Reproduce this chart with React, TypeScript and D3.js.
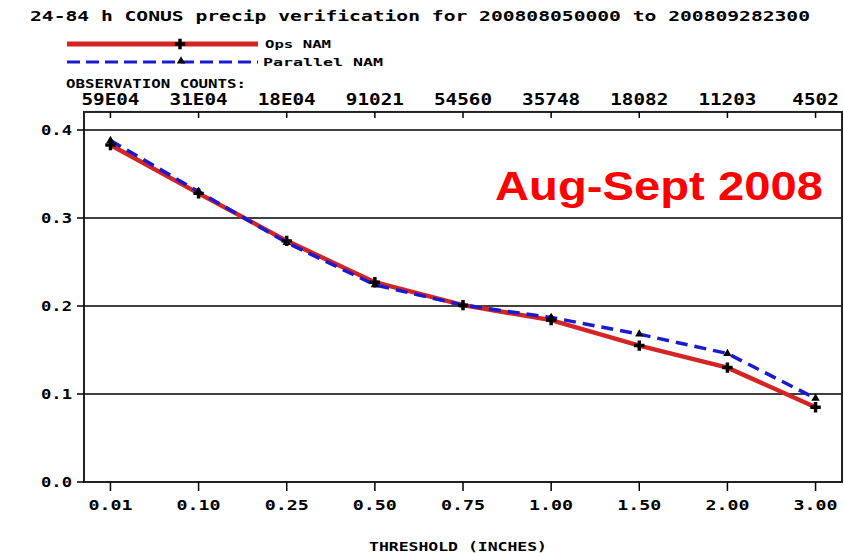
import React from "react";
import * as d3 from "d3";

const thresholds = ["0.01", "0.10", "0.25", "0.50", "0.75", "1.00", "1.50", "2.00", "3.00"];
const obsCounts = ["59E04", "31E04", "18E04", "91021", "54560", "35748", "18082", "11203", "4502"];
const opsNam = [0.383, 0.328, 0.274, 0.227, 0.201, 0.184, 0.155, 0.130, 0.085];
const parallelNam = [0.388, 0.330, 0.272, 0.224, 0.201, 0.187, 0.168, 0.146, 0.095];
const yTicks = [0, 0.1, 0.2, 0.3, 0.4];

const W = 844, H = 553;
const mono = "'DejaVu Sans Mono', 'Liberation Mono', monospace";

export default function App() {
  const x = d3.scaleLinear().domain([-0.3, 8.3]).range([84, 842]);
  const y = d3.scaleLinear().domain([0, 0.4]).range([482, 130]);
  const top = y(0.4205);
  const idx = thresholds.map((_, i) => i);
  const line = d3.line<number>().x((_, i) => x(i)).y((d) => y(d));
  const cross = d3.symbol().type(d3.symbolCross).size(60)() as string;
  const tri = d3.symbol().type(d3.symbolTriangle).size(30)() as string;

  return (
    <svg width={W} height={H} style={{ position: "absolute", left: 0, top: 0, background: "#fff" }}>
      <rect width={W} height={H} fill="#fff" />
      <text x={30} y={21} fontFamily={mono} fontSize={14} fontWeight="bold" textLength={780} lengthAdjust="spacingAndGlyphs">
        24-84 h CONUS precip verification for 200808050000 to 200809282300
      </text>
      {/* legend */}
      <line x1={67} x2={258} y1={44} y2={44} stroke="#d42424" strokeWidth={5} />
      <path d={cross} transform="translate(180,44)" fill="#000" />
      <text x={265} y={48} fontFamily={mono} fontSize={11} fontWeight="bold" textLength={66} lengthAdjust="spacingAndGlyphs">Ops NAM</text>
      <line x1={67} x2={258} y1={62} y2={62} stroke="#1a1ad0" strokeWidth={3} strokeDasharray="13,6" />
      <path d={tri} transform="translate(181,61)" fill="#000" />
      <text x={263} y={66} fontFamily={mono} fontSize={11} fontWeight="bold" textLength={120} lengthAdjust="spacingAndGlyphs">Parallel NAM</text>
      <text x={66} y={88} fontFamily={mono} fontSize={12} fontWeight="bold" textLength={180} lengthAdjust="spacingAndGlyphs">OBSERVATION COUNTS:</text>
      {obsCounts.map((c, i) => (
        <text key={c} x={x(i)} y={105} textAnchor="middle" fontFamily={mono} fontSize={15} fontWeight="bold" textLength={c.length * 11.6} lengthAdjust="spacingAndGlyphs">{c}</text>
      ))}
      {/* grid */}
      {yTicks.slice(1).map((t) => (
        <line key={t} x1={x.range()[0]} x2={x.range()[1]} y1={y(t)} y2={y(t)} stroke="#000" strokeWidth={1.5} />
      ))}
      <rect x={x.range()[0]} y={top} width={x.range()[1] - x.range()[0]} height={y(0) - top} fill="none" stroke="#222" strokeWidth={2} />
      {yTicks.map((t) => (
        <g key={t}>
          <line x1={x.range()[0] - 7} x2={x.range()[0]} y1={y(t)} y2={y(t)} stroke="#000" strokeWidth={1.5} />
          <text x={72} y={y(t) + 5} textAnchor="end" fontFamily={mono} fontSize={14} fontWeight="bold" textLength={31} lengthAdjust="spacingAndGlyphs">{t.toFixed(1)}</text>
        </g>
      ))}
      {idx.map((i) => (
        <g key={i}>
          <line x1={x(i)} x2={x(i)} y1={top} y2={top + 6} stroke="#000" strokeWidth={1.5} />
          <line x1={x(i)} x2={x(i)} y1={y(0)} y2={y(0) + 9} stroke="#000" strokeWidth={1.5} />
          <text x={x(i)} y={510} textAnchor="middle" fontFamily={mono} fontSize={14} fontWeight="bold" textLength={44} lengthAdjust="spacingAndGlyphs">{thresholds[i]}</text>
        </g>
      ))}
      <text x={458} y={551} textAnchor="middle" fontFamily={mono} fontSize={12} fontWeight="bold" textLength={178} lengthAdjust="spacingAndGlyphs">THRESHOLD (INCHES)</text>
      {/* series */}
      <path d={line(opsNam) as string} fill="none" stroke="#d42424" strokeWidth={4.5} />
      <path d={line(parallelNam) as string} fill="none" stroke="#1a1ad0" strokeWidth={3.5} strokeDasharray="12,7" />
      {parallelNam.map((v, i) => (
        <path key={"p" + i} d={tri} transform={`translate(${x(i)},${y(v)})`} fill="#000" />
      ))}
      {opsNam.map((v, i) => (
        <path key={"o" + i} d={cross} transform={`translate(${x(i)},${y(v)})`} fill="#000" />
      ))}
      <text x={495} y={200} fontFamily="'Liberation Sans', Arial, sans-serif" fontSize={41} fontWeight="bold" fill="#ff0000" textLength={328} lengthAdjust="spacingAndGlyphs">Aug-Sept 2008</text>
    </svg>
  );
}
